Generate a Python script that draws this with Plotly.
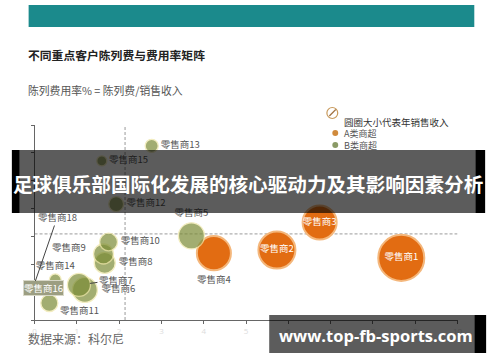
import plotly.graph_objects as go

# ---------------- data ----------------
a_names = ["零售商1", "零售商2", "零售商3", "零售商4"]
a_cost = [8.67, 5.73, 6.74, 4.24]          # 陈列费
a_rate = [2.23, 2.51, 3.50, 2.40]          # 陈列费用率
a_sales = [21.2, 13.7, 11.6, 11.6]         # 年销售收入

b_names = ["零售商5", "零售商6", "零售商7", "零售商8", "零售商9", "零售商10",
           "零售商11", "零售商12", "零售商13", "零售商14", "零售商15",
           "零售商16", "零售商18"]
b_cost = [3.71, 1.19, 1.05, 1.66, 1.63, 1.75, 0.35, 1.93, 2.77, 0.49, 1.59, 0.21, 0.02]
b_rate = [3.02, 1.08, 1.26, 2.05, 2.37, 2.80, 0.61, 4.16, 6.25, 1.44, 5.71, 1.15, 1.40]
b_sales = [6.8, 6.2, 5.3, 4.4, 4.0, 3.2, 2.9, 2.2, 1.7, 1.4, 1.0, 1.0, 0.05]

cost_avg = 2.14
rate_avg = 3.09
x_ticks = list(range(0, 11))
y_ticks = list(range(0, 8))

title = "不同重点客户陈列费与费用率矩阵"
subtitle = "陈列费用率% = 陈列费/销售收入"
source = "数据来源：科尔尼"
legend_title = "圆圈大小代表年销售收入"
legend_a = "A类商超"
legend_b = "B类商超"
banner = "足球俱乐部国际化发展的核心驱动力及其影响因素分析"
watermark = "www.top-fb-sports.com"

# ---------------- styles ----------------
W, H = 500, 362
def px(x): return x / W
def py(y): return 1 - y / H

CJK = "Noto Sans CJK SC"
ORANGE = "#e26c12"
GREEN = "#7b8b36"
LABEL = "#555555"

pos_b = {"零售商5": "top center", "零售商6": "middle right", "零售商8": "middle right",
         "零售商10": "middle right", "零售商12": "middle right",
         "零售商13": "middle right", "零售商14": "top center", "零售商15": "middle right"}
b_text = [n if n in pos_b else "" for n in b_names]
b_pos = [pos_b.get(n, "middle right") for n in b_names]
a_pos = ["middle center", "middle center", "middle center", "bottom center"]
a_text_color = ["white", "white", "white", LABEL]

fig = go.Figure()
fig.add_trace(go.Scatter(
    x=a_cost, y=a_rate, mode="markers+text", text=a_names, textposition=a_pos,
    textfont=dict(family=CJK, size=9.5, color=a_text_color),
    marker=dict(size=a_sales, sizemode="area", sizeref=0.02, color=ORANGE,
                opacity=1, line=dict(color="#f4b77c", width=2)),
    hoverinfo="skip", cliponaxis=False, showlegend=False))
fig.add_trace(go.Scatter(
    x=b_cost, y=b_rate, mode="markers+text", text=b_text, textposition=b_pos,
    textfont=dict(family=CJK, size=9.5, color=LABEL),
    marker=dict(size=b_sales, sizemode="area", sizeref=0.02, color=GREEN,
                line=dict(color="#eee6a6", width=1.3)),
    hoverinfo="skip", cliponaxis=False, showlegend=False))

ann = []
def label_at(name, **kw):
    i = b_names.index(name)
    d = dict(x=b_cost[i], y=b_rate[i], xref="x", yref="y", text=name,
             font=dict(family=CJK, size=9.5, color=LABEL))
    d.update(kw)
    ann.append(d)

label_at("零售商9", showarrow=False, xanchor="right", xshift=-15, yshift=7)
label_at("零售商11", showarrow=False, xanchor="left", xshift=9, yshift=-7)
label_at("零售商7", showarrow=True, arrowhead=0, arrowwidth=1, arrowcolor="#444",
         ax=37, ay=-5, standoff=11)
label_at("零售商16", showarrow=False, bgcolor="#9c9e82", bordercolor="#d8d8c8",
         borderwidth=1, borderpad=0, font=dict(family=CJK, size=9.5, color="white"))
label_at("零售商18", showarrow=True, arrowhead=0, arrowwidth=1, arrowcolor="#444",
         ax=22, ay=-64, standoff=0)

# page texts
ann += [
    dict(x=px(24), y=py(44), xref="paper", yref="paper", text="<b>" + title + "</b>",
         showarrow=False, xanchor="left", font=dict(family=CJK, size=11.8, color="#222")),
    dict(x=px(24), y=py(80), xref="paper", yref="paper", text=subtitle,
         showarrow=False, xanchor="left", font=dict(family=CJK, size=10.8, color="#555")),
    dict(x=px(24), y=py(349), xref="paper", yref="paper", text=source,
         showarrow=False, xanchor="left", font=dict(family=CJK, size=12, color="#666")),
    dict(x=px(345), y=py(113), xref="paper", yref="paper", text=legend_title,
         showarrow=False, xanchor="left", font=dict(family=CJK, size=9.5, color="#333")),
    dict(x=px(345), y=py(133), xref="paper", yref="paper", text=legend_a,
         showarrow=False, xanchor="left", font=dict(family=CJK, size=9, color="#555")),
    dict(x=px(345), y=py(145), xref="paper", yref="paper", text=legend_b,
         showarrow=False, xanchor="left", font=dict(family=CJK, size=9, color="#555")),
    dict(x=px(249), y=py(183), xref="paper", yref="paper", text="<b>" + banner + "</b>",
         showarrow=False, xanchor="center", yanchor="middle",
         font=dict(family=CJK, size=19.6, color="white")),
    dict(x=px(379), y=py(335), xref="paper", yref="paper", text="<b>" + watermark + "</b>",
         showarrow=False, xanchor="center", yanchor="middle",
         font=dict(family="Open Sans", size=16.5, color="white")),
]

shapes = [
    # top teal bar
    dict(type="rect", xref="paper", yref="paper", x0=px(27), x1=px(479), y0=py(27), y1=py(5),
         fillcolor="#1b8a8c", line=dict(width=0), layer="below"),
    # threshold lines
    dict(type="line", xref="x", yref="y", x0=cost_avg, x1=cost_avg, y0=0, y1=7,
         line=dict(color="#9a9a9a", width=1, dash="3px,2px"), layer="below"),
    dict(type="line", xref="x", yref="y", x0=0, x1=10, y0=rate_avg, y1=rate_avg,
         line=dict(color="#9a9a9a", width=1, dash="3px,2px"), layer="below"),
    # legend icon and dots
    dict(type="circle", xref="paper", yref="paper", x0=px(329.5), x1=px(340.5),
         y0=py(118.5), y1=py(107.5), line=dict(color="#c89a5c", width=1.2), fillcolor="white"),
    dict(type="line", xref="paper", yref="paper", x0=px(332), x1=px(338.5), y0=py(116), y1=py(109.5),
         line=dict(color="#a07040", width=1.2)),
    dict(type="circle", xref="paper", yref="paper", x0=px(335), x1=px(341), y0=py(136), y1=py(130),
         fillcolor="#d08a3c", line=dict(width=0)),
    dict(type="circle", xref="paper", yref="paper", x0=px(335), x1=px(341), y0=py(148), y1=py(142),
         fillcolor="#8a9a66", line=dict(width=0)),
    # banner
    dict(type="rect", xref="paper", yref="paper", x0=px(10), x1=px(18), y0=py(213), y1=py(150),
         fillcolor="black", line=dict(width=0), layer="above"),
    dict(type="rect", xref="paper", yref="paper", x0=px(18), x1=px(480), y0=py(213), y1=py(150),
         fillcolor="rgba(0,0,0,0.64)", line=dict(width=0), layer="above"),
    dict(type="rect", xref="paper", yref="paper", x0=px(480), x1=px(490), y0=py(213), y1=py(150),
         fillcolor="black", line=dict(width=0), layer="above"),
    # watermark box
    dict(type="rect", xref="paper", yref="paper", x0=px(271), x1=px(479), y0=py(353), y1=py(315),
         fillcolor="rgba(0,0,0,0.64)", line=dict(width=0), layer="above"),
    dict(type="rect", xref="paper", yref="paper", x0=px(479), x1=px(491), y0=py(353), y1=py(315),
         fillcolor="black", line=dict(width=0), layer="above"),
]

fig.update_layout(
    width=W, height=H, margin=dict(l=0, r=0, t=0, b=0),
    paper_bgcolor="white", plot_bgcolor="white",
    annotations=ann, shapes=shapes,
    xaxis=dict(domain=[px(33), px(462)], range=[0, 10], tickvals=x_ticks,
               showgrid=False, zeroline=False, showline=True, linecolor="#666", linewidth=1,
               ticks="outside", ticklen=3, tickcolor="#666",
               tickfont=dict(size=8, color="#dcdcdc")),
    yaxis=dict(domain=[py(320), py(125)], range=[0, 7], tickvals=y_ticks,
               showgrid=False, zeroline=False, showline=True, linecolor="#666", linewidth=1,
               ticks="outside", ticklen=3, tickcolor="#666", showticklabels=False),
)

fig.write_html("out.html")
